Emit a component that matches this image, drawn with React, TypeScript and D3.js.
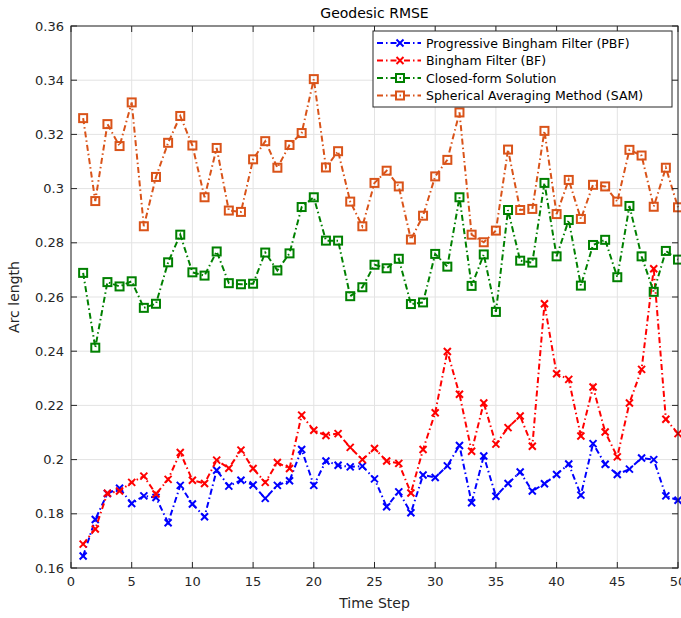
import React from 'react';
import * as d3 from 'd3';

const steps = d3.range(1, 51);

const pbf = [0.1644, 0.1779, 0.1875, 0.1894, 0.1838, 0.1866, 0.186, 0.1767, 0.1905, 0.1836,
  0.1789, 0.1961, 0.1902, 0.1924, 0.1906, 0.1857, 0.1905, 0.1922, 0.2037, 0.1905,
  0.1995, 0.1979, 0.1973, 0.1976, 0.1929, 0.1826, 0.1881, 0.1804, 0.1943, 0.1934,
  0.1977, 0.2052, 0.1841, 0.2013, 0.1865, 0.1912, 0.1954, 0.1884, 0.1911, 0.1945,
  0.1984, 0.1869, 0.2059, 0.1983, 0.1945, 0.1965, 0.2006, 0.2, 0.1866, 0.185];

const bf = [0.1688, 0.1744, 0.1876, 0.1884, 0.1916, 0.1939, 0.1873, 0.1927, 0.2026, 0.1924,
  0.1912, 0.1998, 0.1968, 0.2035, 0.1967, 0.1916, 0.1989, 0.1967, 0.2164, 0.2108,
  0.2089, 0.2096, 0.2045, 0.2, 0.2041, 0.1995, 0.1986, 0.1877, 0.2037, 0.2173,
  0.2399, 0.2241, 0.2031, 0.2209, 0.2057, 0.2118, 0.2161, 0.2049, 0.2575, 0.2317,
  0.2296, 0.2087, 0.2268, 0.2102, 0.201, 0.2209, 0.2333, 0.2704, 0.2149, 0.2096];

const closedForm = [0.2689, 0.2413, 0.2655, 0.2639, 0.2658, 0.256, 0.2575, 0.2728, 0.283, 0.2691,
  0.2679, 0.2768, 0.2651, 0.2647, 0.2649, 0.2764, 0.2698, 0.2761, 0.2932, 0.2968,
  0.2808, 0.2808, 0.2603, 0.2636, 0.2719, 0.2706, 0.2741, 0.2574, 0.258, 0.2759,
  0.2712, 0.2968, 0.2641, 0.2757, 0.2545, 0.2921, 0.2734, 0.2727, 0.3021, 0.275,
  0.2884, 0.2642, 0.2792, 0.2811, 0.2673, 0.2936, 0.275, 0.2619, 0.277, 0.2738];

const sam = [0.326, 0.2954, 0.3238, 0.3157, 0.3318, 0.2861, 0.3043, 0.3169, 0.3268, 0.3159,
  0.2968, 0.315, 0.2919, 0.2914, 0.3108, 0.3175, 0.3077, 0.3161, 0.3205, 0.3404,
  0.3078, 0.3138, 0.2952, 0.2861, 0.3021, 0.3066, 0.3008, 0.2812, 0.29, 0.3045,
  0.3106, 0.3281, 0.283, 0.2802, 0.2845, 0.3144, 0.2921, 0.2925, 0.3213, 0.2906,
  0.3032, 0.2888, 0.3014, 0.3008, 0.2952, 0.3143, 0.3122, 0.2933, 0.3077, 0.2931];

const seriesNames = [
  'Progressive Bingham Filter (PBF)',
  'Bingham Filter (BF)',
  'Closed-form Solution',
  'Spherical Averaging Method (SAM)',
];
const seriesColors = ['#0000ff', '#ff0000', '#008000', '#d95319'];
const seriesMarkers = ['x', 'x', 'square', 'square'];
const seriesValues = [pbf, bf, closedForm, sam];

const xTicks = d3.range(0, 51, 5);
const yTicks = d3.range(0.16, 0.3601, 0.02);

const W = 681, H = 618;
const margin = { top: 26, right: 3, bottom: 50, left: 71 };
const font = '"DejaVu Sans", sans-serif';
const dash = '6,3,1.5,3';

function Marker({ kind, x, y, color }: { kind: string; x: number; y: number; color: string }) {
  if (kind === 'square') {
    return <rect x={x - 4} y={y - 4} width={8} height={8} fill="none" stroke={color} strokeWidth={2} />;
  }
  const s = 3.5;
  return (
    <g stroke={color} strokeWidth={2}>
      <line x1={x - s} y1={y - s} x2={x + s} y2={y + s} />
      <line x1={x - s} y1={y + s} x2={x + s} y2={y - s} />
    </g>
  );
}

export default function App() {
  const iw = W - margin.left - margin.right;
  const ih = H - margin.top - margin.bottom;
  const x = d3.scaleLinear().domain([0, 50]).range([0, iw]);
  const y = d3.scaleLinear().domain([0.16, 0.36]).range([ih, 0]);
  const line = d3.line<number>().x((_, i) => x(steps[i])).y(d => y(d));
  const fmt = (v: number) => String(+v.toFixed(2));

  const legX = 373 - margin.left, legY = 31 - margin.top;
  const legW = 299, legH = 76;

  return (
    <svg width={W} height={H} style={{ position: 'absolute', left: 0, top: 0, background: '#fff' }}>
      <g transform={`translate(${margin.left},${margin.top})`} fontFamily={font}>
        {/* grid */}
        {xTicks.map(t => (
          <line key={'gx' + t} x1={x(t)} x2={x(t)} y1={0} y2={ih} stroke="#e3e3e3" strokeWidth={1} />
        ))}
        {yTicks.map(t => (
          <line key={'gy' + t} x1={0} x2={iw} y1={y(t)} y2={y(t)} stroke="#e3e3e3" strokeWidth={1} />
        ))}
        {/* series */}
        {seriesValues.map((vals, si) => (
          <g key={si}>
            <path d={line(vals) || ''} fill="none" stroke={seriesColors[si]} strokeWidth={2} strokeDasharray={dash} />
            {vals.map((v, i) => (
              <Marker key={i} kind={seriesMarkers[si]} x={x(steps[i])} y={y(v)} color={seriesColors[si]} />
            ))}
          </g>
        ))}
        {/* ticks inward */}
        {xTicks.map(t => (
          <g key={'tx' + t} stroke="#262626">
            <line x1={x(t)} x2={x(t)} y1={ih} y2={ih - 6} />
            <line x1={x(t)} x2={x(t)} y1={0} y2={6} />
          </g>
        ))}
        {yTicks.map(t => (
          <g key={'ty' + t} stroke="#262626">
            <line x1={0} x2={6} y1={y(t)} y2={y(t)} />
            <line x1={iw} x2={iw - 6} y1={y(t)} y2={y(t)} />
          </g>
        ))}
        <rect x={0} y={0} width={iw} height={ih} fill="none" stroke="#262626" strokeWidth={1} />
        {/* tick labels */}
        {xTicks.map(t => (
          <text key={'lx' + t} x={x(t)} y={ih + 18} textAnchor="middle" fontSize={13} fill="#262626">{t}</text>
        ))}
        {yTicks.map(t => (
          <text key={'ly' + t} x={-7} y={y(t) + 4.5} textAnchor="end" fontSize={13} fill="#262626">{fmt(t)}</text>
        ))}
        {/* labels */}
        <text x={iw / 2} y={ih + 40} textAnchor="middle" fontSize={14} fill="#262626">Time Step</text>
        <text transform={`translate(${-52},${ih / 2}) rotate(-90)`} textAnchor="middle" fontSize={14} fill="#262626">Arc length</text>
        <text x={iw / 2} y={-8} textAnchor="middle" fontSize={14} fill="#000">Geodesic RMSE</text>
        {/* legend */}
        <g transform={`translate(${legX},${legY})`}>
          <rect x={0} y={0} width={legW} height={legH} fill="#fff" stroke="#262626" strokeWidth={1} />
          {seriesNames.map((name, i) => {
            const ly = 12 + i * 17.5;
            return (
              <g key={name}>
                <line x1={4} x2={48} y1={ly} y2={ly} stroke={seriesColors[i]} strokeWidth={2} strokeDasharray={dash} />
                <Marker kind={seriesMarkers[i]} x={27} y={ly} color={seriesColors[i]} />
                <text x={53} y={ly + 4.5} fontSize={12.5} fill="#000">{name}</text>
              </g>
            );
          })}
        </g>
      </g>
    </svg>
  );
}
